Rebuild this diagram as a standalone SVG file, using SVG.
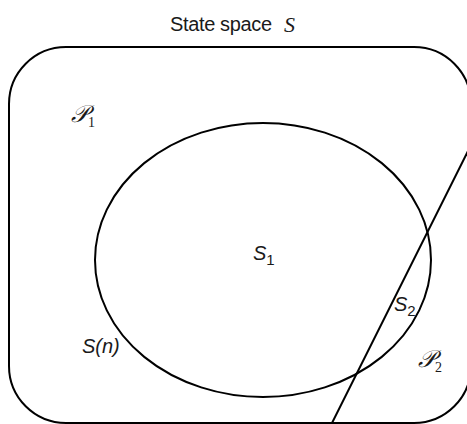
<svg xmlns="http://www.w3.org/2000/svg" width="467" height="424" viewBox="0 0 467 424">
<style>
.ln{fill:none;stroke:#000;stroke-width:2}
.t{font-family:"Liberation Sans",Arial,sans-serif;fill:#1a1a1a}
.i{font-family:"Liberation Sans",Arial,sans-serif;font-style:italic;fill:#1a1a1a}
.m{font-family:"Liberation Serif","Times New Roman",serif;font-style:italic;fill:#1a1a1a}
</style>
<rect width="467" height="424" fill="#fff"/>
<g id="space">
<rect class="ln" x="9" y="47" width="462" height="376" rx="57" ry="57"/>
<text class="t" x="170" y="31" font-size="20" textLength="102">State space</text>
<text class="m" x="284" y="32" font-size="22">S</text>
</g>
<g id="S1">
<ellipse class="ln" cx="263" cy="260" rx="168" ry="137"/>
<text class="i" x="253" y="260" font-size="20">S<tspan font-style="normal" font-size="15" dy="5">1</tspan></text>
<text class="i" x="82" y="353" font-size="20">S(n)</text>
</g>
<g id="connectors">
<line class="ln" x1="481" y1="125" x2="329" y2="429"/>
</g>
<g id="S2">
<text class="i" x="394" y="311" font-size="20">S<tspan font-style="normal" font-size="15" dy="5">2</tspan></text>
</g>
<g id="P1">
<text class="m" x="71" y="122" font-size="24">𝒫<tspan font-style="normal" font-size="14" dy="5">1</tspan></text>
</g>
<g id="P2">
<text class="m" x="418" y="367" font-size="24">𝒫<tspan font-style="normal" font-size="14" dy="5">2</tspan></text>
</g>
</svg>
